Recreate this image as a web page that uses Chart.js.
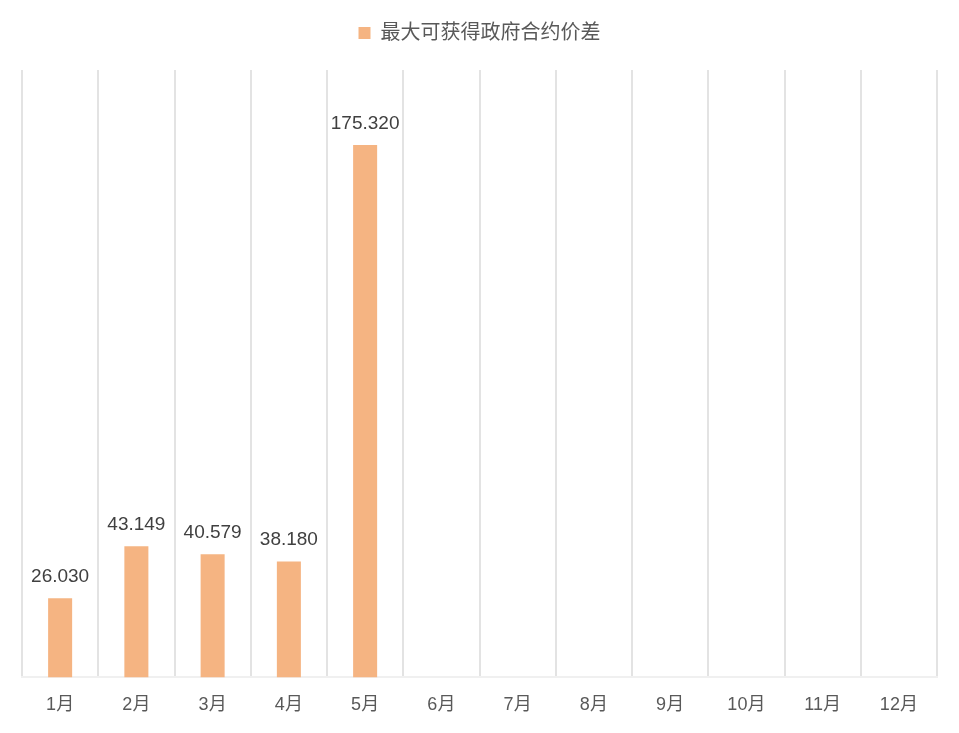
<!DOCTYPE html>
<html>
<head>
<meta charset="utf-8">
<script src="https://cdn.jsdelivr.net/npm/chart.js@4/dist/chart.umd.min.js"></script>
<style>
  html, body { margin: 0; padding: 0; background: #ffffff; }
  #wrap { width: 959px; height: 733px; }
</style>
</head>
<body>
<div id="wrap"><canvas id="c" width="959" height="733"></canvas></div>
<script>
// Monthly categories and the series drawn as bars
const months = ['1月', '2月', '3月', '4月', '5月', '6月', '7月', '8月', '9月', '10月', '11月', '12月'];
const spreadValues = [26.030, 43.149, 40.579, 38.180, 175.320, null, null, null, null, null, null, null];
const seriesName = '最大可获得政府合约价差';

const FONT = '"Liberation Sans", "Noto Sans CJK SC", sans-serif';

// Writes each bar's value above it
const valueLabels = {
  id: 'valueLabels',
  afterDatasetsDraw(chart) {
    const ctx = chart.ctx;
    const meta = chart.getDatasetMeta(0);
    ctx.save();
    ctx.font = '19px ' + FONT;
    ctx.fillStyle = '#404040';
    ctx.textAlign = 'center';
    ctx.textBaseline = 'bottom';
    meta.data.forEach((bar, i) => {
      const v = spreadValues[i];
      if (v === null || v === undefined) return;
      ctx.fillText(v.toFixed(3), bar.x, bar.y - 12);
    });
    ctx.restore();
  }
};

// Extra room between the legend and the plot area
const legendGap = {
  id: 'legendGap',
  beforeInit(chart) {
    const legend = chart.legend;
    if (!legend) return;
    const fit = legend.fit;
    legend.fit = function () {
      fit.call(this);
      this.height += 17;
    };
  }
};

new Chart(document.getElementById('c'), {
  type: 'bar',
  data: {
    labels: months,
    datasets: [{
      label: seriesName,
      data: spreadValues,
      backgroundColor: '#F5B482',
      borderWidth: 0,
      categoryPercentage: 1,
      barPercentage: 0.315
    }]
  },
  options: {
    responsive: false,
    animation: false,
    layout: { padding: { left: 22, right: 22, top: 9, bottom: 0 } },
    plugins: {
      legend: {
        position: 'top',
        labels: {
          boxWidth: 12,
          boxHeight: 12,
          color: '#595959',
          font: { size: 20, family: FONT },
          padding: 14
        }
      },
      tooltip: { enabled: false }
    },
    scales: {
      x: {
        grid: {
          display: true,
          offset: true,
          color: '#e3e3e3',
          lineWidth: 2,
          drawTicks: false
        },
        border: { display: true, color: '#f0f0f0', width: 2 },
        ticks: {
          color: '#595959',
          font: { size: 18, family: FONT },
          padding: 17
        }
      },
      y: {
        display: false,
        min: 0,
        max: 200
      }
    }
  },
  plugins: [valueLabels, legendGap]
});
</script>
</body>
</html>
